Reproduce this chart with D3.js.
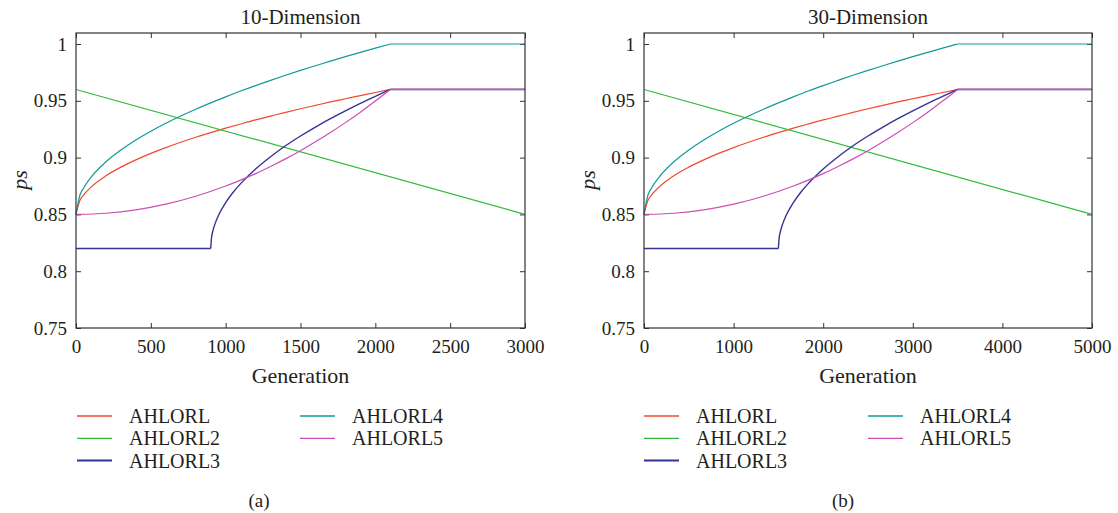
<!DOCTYPE html>
<html>
<head>
<meta charset="utf-8">
<script src="https://cdn.jsdelivr.net/npm/d3@7"></script>
<style>
  body { margin: 0; background: #fff; }
</style>
</head>
<body>
<svg id="chart" width="1118" height="513"></svg>
<script>
// series names and colours
const seriesNames = ["AHLORL", "AHLORL2", "AHLORL3", "AHLORL4", "AHLORL5"];
const seriesColors = ["#f2482e", "#2fbb3c", "#343395", "#12999a", "#cc4fb3"];

// ps values (same shapes in both panels, x stretched)
const psRed   = [0.85, 0.862, 0.867, 0.874, 0.884, 0.8916, 0.898, 0.9037, 0.9088, 0.9135, 0.9179, 0.922, 0.9259, 0.9296, 0.9332, 0.9365, 0.9398, 0.943, 0.946, 0.949, 0.9518, 0.9546, 0.9573, 0.96, 0.96];
const psTeal  = [0.85, 0.8664, 0.8731, 0.8827, 0.8963, 0.9067, 0.9155, 0.9232, 0.9302, 0.9366, 0.9426, 0.9482, 0.9535, 0.9586, 0.9634, 0.968, 0.9725, 0.9768, 0.9809, 0.985, 0.9889, 0.9927, 0.9964, 1.0, 1.0];
const psGreen = [0.96, 0.85];
const psNavy  = [0.82, 0.82, 0.829, 0.8357, 0.8421, 0.8486, 0.8604, 0.8695, 0.8771, 0.89, 0.9008, 0.9104, 0.919, 0.9269, 0.9343, 0.9412, 0.9478, 0.954, 0.96, 0.96];
const psPink  = [0.85, 0.851, 0.854, 0.859, 0.866, 0.875, 0.8802, 0.8859, 0.8922, 0.8989, 0.9061, 0.9139, 0.9221, 0.9308, 0.94, 0.9498, 0.96, 0.96];

// generation values, 10-dimension
const gen10Root  = [0, 25, 50, 100, 200, 300, 400, 500, 600, 700, 800, 900, 1000, 1100, 1200, 1300, 1400, 1500, 1600, 1700, 1800, 1900, 2000, 2100, 3000];
const gen10Green = [0, 3000];
const gen10Navy  = [0, 900, 905, 915, 930, 950, 1000, 1050, 1100, 1200, 1300, 1400, 1500, 1600, 1700, 1800, 1900, 2000, 2100, 3000];
const gen10Pink  = [0, 200, 400, 600, 800, 1000, 1100, 1200, 1300, 1400, 1500, 1600, 1700, 1800, 1900, 2000, 2100, 3000];

// generation values, 30-dimension
const gen30Root  = [0, 42, 83, 167, 333, 500, 667, 833, 1000, 1167, 1333, 1500, 1667, 1833, 2000, 2167, 2333, 2500, 2667, 2833, 3000, 3167, 3333, 3500, 5000];
const gen30Green = [0, 5000];
const gen30Navy  = [0, 1500, 1508, 1525, 1550, 1583, 1667, 1750, 1833, 2000, 2167, 2333, 2500, 2667, 2833, 3000, 3167, 3333, 3500, 5000];
const gen30Pink  = [0, 333, 667, 1000, 1333, 1667, 1833, 2000, 2167, 2333, 2500, 2667, 2833, 3000, 3167, 3333, 3500, 5000];

const yTicks = [0.75, 0.8, 0.85, 0.9, 0.95, 1];
const xTicks10 = [0, 500, 1000, 1500, 2000, 2500, 3000];
const xTicks30 = [0, 1000, 2000, 3000, 4000, 5000];

const FONT = "'Liberation Serif', 'Times New Roman', 'DejaVu Serif', serif";
const svg = d3.select("#chart");

function zip(xs, ys) {
  return xs.map((x, i) => [x, ys[i]]);
}

// split a series into flat and rising runs so the knees stay sharp
function runs(pts) {
  const out = [];
  let cur = [pts[0]];
  let flat = null;
  for (let i = 1; i < pts.length; i++) {
    const f = pts[i][1] === pts[i - 1][1];
    if (flat !== null && f !== flat) {
      out.push(cur);
      cur = [pts[i - 1]];
    }
    flat = f;
    cur.push(pts[i]);
  }
  out.push(cur);
  return out;
}

function drawPanel(opt) {
  const x = d3.scaleLinear().domain([0, opt.xmax]).range([opt.left, opt.right]);
  const y = d3.scaleLinear().domain([0.75, 1.0097]).range([328, 33]);
  const g = svg.append("g");

  const fmt = d => String(+d.toFixed(2));

  // axes with inward ticks, mirrored on top/right
  g.append("g").attr("transform", "translate(0,328)")
    .call(d3.axisBottom(x).tickValues(opt.xTicks).tickSize(-5).tickPadding(12).tickFormat(d3.format("d")))
    .call(a => a.select(".domain").remove());
  g.append("g").attr("transform", "translate(0,33)")
    .call(d3.axisTop(x).tickValues(opt.xTicks).tickSize(-5).tickFormat(""))
    .call(a => a.select(".domain").remove());
  g.append("g").attr("transform", `translate(${opt.left},0)`)
    .call(d3.axisLeft(y).tickValues(yTicks).tickSize(-5).tickPadding(9).tickFormat(fmt))
    .call(a => a.select(".domain").remove());
  g.append("g").attr("transform", `translate(${opt.right},0)`)
    .call(d3.axisRight(y).tickValues(yTicks).tickSize(-5).tickFormat(""))
    .call(a => a.select(".domain").remove());

  g.selectAll("g").attr("font-family", FONT);
  g.selectAll(".tick line").attr("stroke", "#333");
  g.selectAll(".tick text").attr("font-size", 19).attr("fill", "#231f20");

  const line = d3.line().x(d => x(d[0])).y(d => y(d[1])).curve(d3.curveMonotoneX);

  opt.series.forEach((s, i) => {
    runs(s).forEach(seg => {
      g.append("path")
        .attr("d", line(seg))
        .attr("fill", "none")
        .attr("stroke", seriesColors[i])
        .attr("stroke-width", i === 2 ? 1.4 : 1.2);
    });
  });

  // frame
  g.append("rect")
    .attr("x", opt.left).attr("y", 33)
    .attr("width", opt.right - opt.left).attr("height", 328 - 33)
    .attr("fill", "none").attr("stroke", "#333").attr("stroke-width", 1.2);

  const cx = (opt.left + opt.right) / 2;
  const txt = (sel) => sel.attr("font-family", FONT).attr("fill", "#231f20");
  g.append("text").attr("x", cx).attr("y", 24).attr("text-anchor", "middle")
    .attr("font-size", 21).call(txt).text(opt.title);
  g.append("text").attr("x", cx).attr("y", 383).attr("text-anchor", "middle")
    .attr("font-size", 22).call(txt).text("Generation");
  g.append("text")
    .attr("transform", `translate(${opt.left - 49},180) rotate(-90)`)
    .attr("text-anchor", "middle").attr("font-size", 22).attr("font-style", "italic")
    .call(txt).text("ps");

  // legend
  const legPos = [[0, 0], [0, 1], [0, 2], [1, 0], [1, 1]];
  legPos.forEach((p, i) => {
    const lx = opt.legendX[p[0]];
    const ly = 416 + p[1] * 22.3;
    g.append("line").attr("x1", lx).attr("x2", lx + 35).attr("y1", ly).attr("y2", ly)
      .attr("stroke", seriesColors[i]).attr("stroke-width", i === 2 ? 2 : 1.3);
    g.append("text").attr("x", lx + 52).attr("y", ly + 7)
      .attr("font-size", 20).call(txt).text(seriesNames[i]);
  });

  g.append("text").attr("x", opt.captionX).attr("y", 507).attr("text-anchor", "middle")
    .attr("font-size", 19).call(txt).text(opt.caption);
}

drawPanel({
  left: 76, right: 525, xmax: 3000, xTicks: xTicks10, title: "10-Dimension",
  legendX: [77, 300], captionX: 259, caption: "(a)",
  series: [
    zip(gen10Root, psRed),
    zip(gen10Green, psGreen),
    zip(gen10Navy, psNavy),
    zip(gen10Root, psTeal),
    zip(gen10Pink, psPink)
  ]
});

drawPanel({
  left: 644, right: 1092, xmax: 5000, xTicks: xTicks30, title: "30-Dimension",
  legendX: [644, 868], captionX: 843, caption: "(b)",
  series: [
    zip(gen30Root, psRed),
    zip(gen30Green, psGreen),
    zip(gen30Navy, psNavy),
    zip(gen30Root, psTeal),
    zip(gen30Pink, psPink)
  ]
});
</script>
</body>
</html>
